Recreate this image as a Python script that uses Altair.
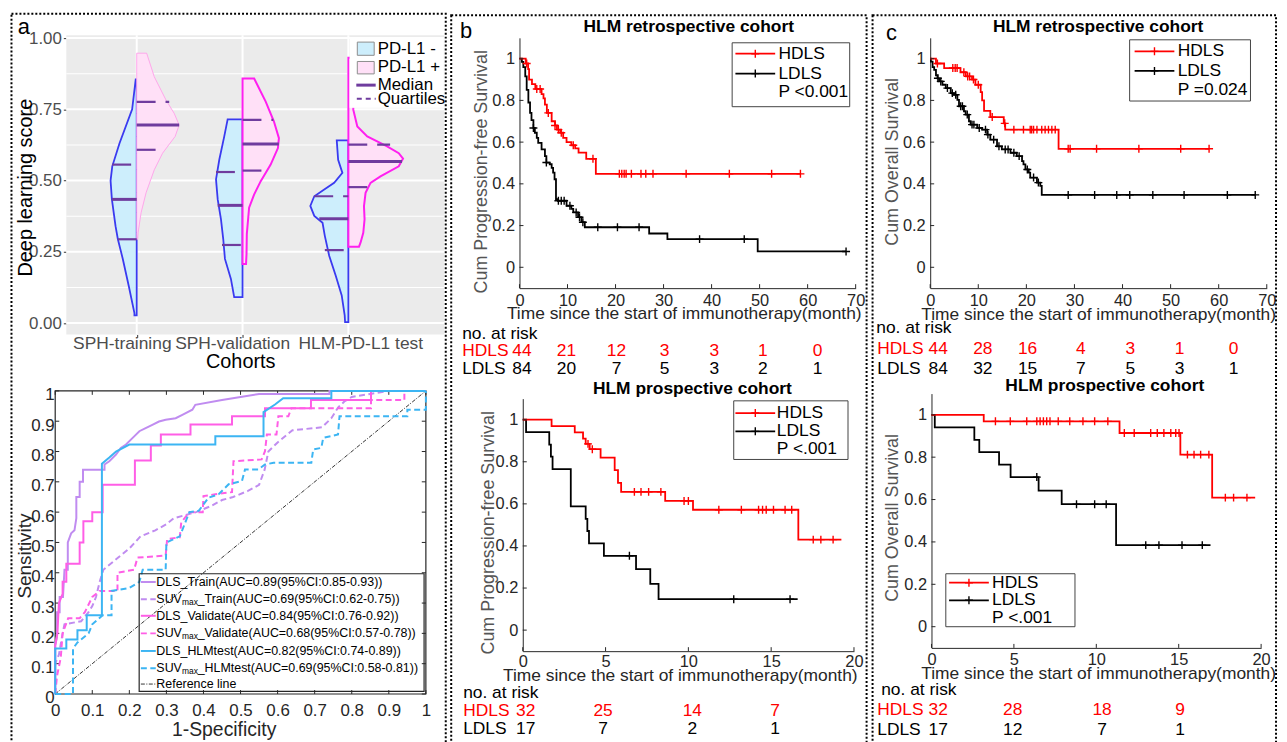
import altair as alt
import pandas as pd

FONT = "Liberation Sans"
W, H = 1279, 734
AX = "#262626"
RED = "#ff0000"
PURPLE = "#6f3c9e"
PLUS = "M-1,0L1,0M0,-1L0,1"
DUMMY = pd.DataFrame({"d": [0]})


def px(v):
    return v - 8


# ======================= DATA =======================
# ---- panel a (top): split violins, score vs half-width ----
cohorts = ["SPH-training", "SPH-validation", "HLM-PD-L1 test"]
tr_neg_y = [0.027, 0.035, 0.13, 0.225, 0.295, 0.34, 0.435, 0.50, 0.55, 0.631, 0.75, 0.855]
tr_neg_w = [2.3, 2.3, 8.0, 14.0, 19.0, 21.3, 25.0, 26.3, 24.6, 17.3, 4.6, 1.0]
tr_pos_y = [0.294, 0.317, 0.387, 0.457, 0.538, 0.596, 0.655, 0.695, 0.736, 0.783, 0.864, 0.947]
tr_pos_w = [1.0, 1.4, 4.4, 9.4, 17.7, 26.0, 38.7, 42.7, 37.7, 29.4, 17.7, 10.0]
va_neg_y = [0.091, 0.155, 0.225, 0.294, 0.364, 0.434, 0.504, 0.573, 0.655, 0.715]
va_neg_w = [8.4, 11.7, 17.7, 19.4, 21.7, 25.0, 26.7, 23.4, 18.4, 15.0]
va_pos_y = [0.207, 0.242, 0.312, 0.405, 0.451, 0.498, 0.556, 0.614, 0.649, 0.707, 0.777, 0.858]
va_pos_w = [3.5, 4.0, 4.3, 6.6, 11.6, 18.3, 28.3, 35.6, 36.6, 31.6, 23.3, 11.7]
hl_neg_y = [0.003, 0.027, 0.097, 0.166, 0.236, 0.306, 0.352, 0.376, 0.411, 0.445, 0.469, 0.492, 0.527, 0.573, 0.641]
hl_neg_w = [3.3, 3.7, 6.7, 12.7, 19.3, 23.7, 26.0, 34.3, 38.3, 34.3, 24.3, 14.3, 6.0, 10.3, 11.7]
hl_pos_y = [0.268, 0.283, 0.317, 0.364, 0.41, 0.457, 0.492, 0.515, 0.55, 0.577, 0.596, 0.62, 0.655, 0.69, 0.748, 0.864, 0.931]
hl_pos_w = [10.7, 12.3, 15.0, 16.3, 15.7, 17.3, 22.3, 32.3, 50.7, 55.0, 50.7, 39.0, 19.0, 9.0, 5.0, 4.0, 4.0]
# quartiles (lower, median, upper) and their half-widths
tr_neg_q = [0.294, 0.434, 0.556]
tr_neg_qw = [19.0, 25.0, 24.6]
tr_pos_q = [0.608, 0.695, 0.776]
tr_pos_qw = [28.7, 42.7, 32.7]
va_neg_q = [0.274, 0.413, 0.530]
va_neg_qw = [20.7, 25.0, 26.7]
va_pos_q = [0.535, 0.628, 0.713]
va_pos_qw = [25.0, 36.5, 31.0]
hl_neg_q = [0.256, 0.366, 0.445]
hl_neg_qw = [23.7, 29.3, 34.3]
hl_pos_q = [0.477, 0.567, 0.626]
hl_pos_qw = [19.0, 54.0, 42.0]

# ---- panel a (bottom): ROC curves ----
roc_names = ["DLS_Train", "SUVmax_Train", "DLS_Validate", "SUVmax_Validate", "DLS_HLMtest", "SUVmax_HLMtest"]
roc_auc = ["0.89(95%CI:0.85-0.93)", "0.69(95%CI:0.62-0.75)", "0.84(95%CI:0.76-0.92)",
           "0.68(95%CI:0.57-0.78)", "0.82(95%CI:0.74-0.89)", "0.69(95%CI:0.58-0.81)"]
dls_train_fpr = [0, 0, 0.005, 0.005, 0.012, 0.012, 0.021, 0.025, 0.034, 0.034, 0.043, 0.052, 0.057, 0.057, 0.066, 0.066,
                 0.075, 0.075, 0.133, 0.133, 0.146, 0.164, 0.177, 0.191, 0.209, 0.227, 0.244, 0.262, 0.280, 0.298, 0.325,
                 0.343, 0.370, 0.378, 0.45, 0.50, 0.55, 0.74, 0.74, 1.0]
dls_train_tpr = [0, 0.16, 0.19, 0.27, 0.27, 0.32, 0.32, 0.41, 0.41, 0.50, 0.53, 0.54, 0.58, 0.65, 0.65, 0.70,
                 0.70, 0.74, 0.74, 0.757, 0.768, 0.79, 0.812, 0.823, 0.845, 0.867, 0.877, 0.888, 0.899, 0.905, 0.91,
                 0.921, 0.938, 0.954, 0.97, 0.98, 0.99, 0.99, 1.0, 1.0]
suv_train_fpr = [0, 0, 0.01, 0.02, 0.025, 0.07, 0.09, 0.10, 0.11, 0.12, 0.13, 0.17, 0.20, 0.23, 0.27, 0.30, 0.32, 0.38,
                 0.42, 0.45, 0.48, 0.52, 0.55, 0.565, 0.575, 0.60, 0.64, 0.72, 0.745, 0.763, 0.78, 0.80, 0.85, 0.90, 1.0]
suv_train_tpr = [0, 0.10, 0.13, 0.20, 0.23, 0.24, 0.27, 0.29, 0.32, 0.37, 0.41, 0.45, 0.48, 0.52, 0.54, 0.56, 0.58, 0.60,
                 0.62, 0.64, 0.65, 0.67, 0.69, 0.74, 0.80, 0.83, 0.87, 0.88, 0.91, 0.945, 0.965, 0.98, 0.99, 1.0, 1.0]
dls_val_fpr = [0, 0, 0.006, 0.01, 0.02, 0.02, 0.03, 0.03, 0.066, 0.066, 0.076, 0.076, 0.10, 0.10, 0.128, 0.128, 0.215,
               0.215, 0.258, 0.258, 0.285, 0.285, 0.365, 0.365, 0.477, 0.477, 0.566, 0.566, 0.69, 0.69, 0.852, 0.852, 1.0]
dls_val_tpr = [0, 0.16, 0.20, 0.30, 0.33, 0.37, 0.37, 0.43, 0.43, 0.50, 0.50, 0.57, 0.57, 0.60, 0.60, 0.69, 0.69,
               0.77, 0.77, 0.82, 0.82, 0.856, 0.856, 0.889, 0.889, 0.916, 0.916, 0.943, 0.943, 0.97, 0.97, 1.0, 1.0]
suv_val_fpr = [0, 0.005, 0.015, 0.02, 0.035, 0.066, 0.08, 0.10, 0.12, 0.168, 0.168, 0.213, 0.222, 0.298, 0.302, 0.336,
               0.34, 0.362, 0.398, 0.40, 0.432, 0.477, 0.481, 0.557, 0.566, 0.571, 0.597, 0.602, 0.629, 0.637, 0.852,
               0.852, 0.942, 0.942, 1.0]
suv_val_tpr = [0, 0.06, 0.12, 0.20, 0.25, 0.25, 0.27, 0.32, 0.34, 0.34, 0.40, 0.41, 0.45, 0.457, 0.511, 0.517,
               0.566, 0.60, 0.60, 0.653, 0.659, 0.666, 0.768, 0.774, 0.801, 0.856, 0.856, 0.916, 0.916, 0.943, 0.943,
               0.97, 0.97, 1.0, 1.0]
dls_hlm_fpr = [0, 0, 0.03, 0.03, 0.06, 0.06, 0.085, 0.085, 0.126, 0.126, 0.146, 0.164, 0.20, 0.432, 0.432, 0.562,
               0.562, 0.593, 0.615, 0.745, 0.745, 1.0]
dls_hlm_tpr = [0, 0.15, 0.15, 0.18, 0.18, 0.21, 0.21, 0.26, 0.26, 0.76, 0.78, 0.80, 0.823, 0.823, 0.85, 0.85,
               0.93, 0.955, 0.976, 0.976, 1.0, 1.0]
suv_hlm_fpr = [0, 0.048, 0.048, 0.06, 0.09, 0.10, 0.128, 0.152, 0.152, 0.20, 0.227, 0.236, 0.298, 0.30, 0.336, 0.362,
               0.387, 0.414, 0.441, 0.468, 0.504, 0.512, 0.548, 0.566, 0.589, 0.691, 0.696, 0.718, 0.723, 0.763, 0.767,
               0.95, 0.95, 1.0, 1.0]
suv_hlm_tpr = [0, 0, 0.15, 0.17, 0.20, 0.23, 0.26, 0.26, 0.34, 0.35, 0.37, 0.41, 0.41, 0.50, 0.52, 0.60,
               0.604, 0.648, 0.659, 0.692, 0.703, 0.741, 0.741, 0.757, 0.763, 0.763, 0.807, 0.812, 0.845, 0.856, 0.916,
               0.916, 0.938, 0.938, 1.0]

# ---- panel b: progression-free survival ----
pfs_r_h_t = [0, 1.3, 1.8, 2.0, 2.6, 3.3, 4.6, 5.0, 5.3, 5.7, 6.7, 7.4, 7.8, 8.5, 9.1, 9.8, 10.8, 11.6, 12.3, 13.9, 15.9, 58.5]
pfs_r_h_s = [1.0, 0.977, 0.95, 0.90, 0.878, 0.855, 0.83, 0.81, 0.78, 0.74, 0.70, 0.68, 0.66, 0.645, 0.62, 0.60, 0.585,
             0.57, 0.55, 0.52, 0.448, 0.448]
pfs_r_h_ct = [1.5, 3.6, 4.3, 6.0, 7.4, 8.1, 8.7, 11.2, 15.3, 20.8, 21.3, 21.8, 22.2, 23.3, 25.3, 26.3, 27.8, 34.7, 43.7,
              52.5, 58.5]
pfs_r_h_cs = [0.977, 0.855, 0.855, 0.74, 0.68, 0.66, 0.645, 0.585, 0.52, 0.448, 0.448, 0.448, 0.448, 0.448, 0.448,
              0.448, 0.448, 0.448, 0.448, 0.448, 0.448]
pfs_r_l_t = [0, 0.5, 0.8, 1.2, 1.5, 1.85, 2.2, 2.5, 2.9, 3.2, 3.6, 3.9, 4.6, 5.3, 5.6, 6.3, 6.7, 7.0, 7.3, 7.6, 8.0, 9.8,
             10.8, 11.2, 12.2, 12.9, 13.6, 27.0, 30.8, 49.6, 68.0]
pfs_r_l_s = [1.0, 0.985, 0.96, 0.915, 0.85, 0.79, 0.74, 0.705, 0.668, 0.645, 0.62, 0.596, 0.565, 0.533, 0.502, 0.494,
             0.477, 0.454, 0.422, 0.327, 0.319, 0.295, 0.28, 0.263, 0.24, 0.216, 0.192, 0.162, 0.135, 0.076, 0.076]
pfs_r_l_ct = [2.9, 5.6, 8.1, 8.7, 9.3, 10.5, 11.8, 12.5, 13.2, 16.3, 20.4, 24.9, 37.5, 46.8, 68.0]
pfs_r_l_cs = [0.668, 0.502, 0.319, 0.319, 0.319, 0.295, 0.263, 0.24, 0.216, 0.192, 0.192, 0.192, 0.135, 0.135, 0.076]

pfs_p_h_t = [0, 1.74, 3.14, 3.64, 3.8, 4.04, 4.7, 5.55, 5.75, 5.94, 8.6, 10.28, 16.64, 19.24]
pfs_p_h_s = [1.0, 0.969, 0.94, 0.91, 0.885, 0.86, 0.82, 0.76, 0.70, 0.657, 0.614, 0.572, 0.43, 0.43]
pfs_p_h_ct = [3.94, 4.2, 6.74, 7.14, 7.6, 8.34, 9.74, 10.0, 11.84, 13.2, 14.24, 14.48, 14.7, 15.14, 15.84, 16.24,
              17.54, 18.0, 18.74]
pfs_p_h_cs = [0.885, 0.86, 0.657, 0.657, 0.657, 0.657, 0.614, 0.614, 0.572, 0.572, 0.572, 0.572, 0.572, 0.572,
              0.572, 0.572, 0.43, 0.43, 0.43]
pfs_p_l_t = [0, 0.2, 1.6, 1.7, 1.8, 2.9, 3.8, 3.9, 4.0, 4.9, 6.84, 7.7, 8.2, 16.6]
pfs_p_l_s = [1.0, 0.941, 0.882, 0.824, 0.765, 0.588, 0.529, 0.471, 0.412, 0.353, 0.29, 0.22, 0.147, 0.147]
pfs_p_l_ct = [6.44, 12.74, 16.14]
pfs_p_l_cs = [0.353, 0.147, 0.147]

# ---- panel c: overall survival ----
os_r_h_t = [0, 1.2, 2.9, 6.3, 7.4, 8.7, 9.4, 10.5, 10.8, 11.2, 12.5, 15.3, 15.6, 26.7, 58.0]
os_r_h_s = [1.0, 0.977, 0.955, 0.935, 0.915, 0.90, 0.875, 0.84, 0.80, 0.75, 0.72, 0.69, 0.66, 0.568, 0.568]
os_r_h_ct = [1.5, 4.7, 5.2, 5.6, 7.0, 7.8, 8.2, 9.0, 10.0, 12.9, 15.5, 17.4, 19.4, 20.8, 21.1, 21.5, 22.2, 23.2, 23.9,
             24.6, 25.3, 26.0, 28.7, 29.1, 34.6, 43.4, 52.1, 58.0]
os_r_h_cs = [0.977, 0.955, 0.955, 0.955, 0.935, 0.915, 0.915, 0.90, 0.875, 0.72, 0.69, 0.66, 0.66, 0.66, 0.66, 0.66,
             0.66, 0.66, 0.66, 0.66, 0.66, 0.66, 0.568, 0.568, 0.568, 0.568, 0.568, 0.568]
os_r_l_t = [0, 0.14, 0.5, 0.83, 1.2, 1.52, 1.86, 2.55, 3.24, 4.27, 4.96, 5.65, 5.99, 7.02, 7.37, 8.06, 8.4, 9.78, 10.8,
            11.85, 12.5, 13.9, 14.9, 16.7, 18.0, 19.1, 19.4, 19.8, 20.5, 20.8, 22.2, 22.9, 23.2, 67.6]
os_r_l_s = [1.0, 0.986, 0.96, 0.946, 0.92, 0.906, 0.891, 0.875, 0.859, 0.835, 0.827, 0.803, 0.772, 0.748, 0.732, 0.70,
            0.684, 0.668, 0.66, 0.636, 0.612, 0.58, 0.565, 0.549, 0.533, 0.509, 0.493, 0.469, 0.454, 0.43, 0.406, 0.39,
            0.347, 0.347]
os_r_l_ct = [1.6, 2.2, 3.58, 4.6, 5.3, 6.34, 6.7, 7.71, 8.7, 9.09, 10.2, 11.5, 12.0, 13.2, 14.3, 15.6, 16.2, 17.4, 18.5,
             20.2, 21.5, 22.5, 28.7, 34.2, 38.8, 41.5, 46.3, 52.8, 61.8, 67.6]
os_r_l_cs = [0.906, 0.891, 0.859, 0.835, 0.827, 0.772, 0.772, 0.732, 0.684, 0.684, 0.668, 0.66, 0.636, 0.612, 0.58,
             0.565, 0.565, 0.549, 0.533, 0.469, 0.43, 0.406, 0.347, 0.347, 0.347, 0.347, 0.347, 0.347, 0.347, 0.347]

os_p_h_t = [0, 3.17, 11.41, 15.1, 17.03, 19.64]
os_p_h_s = [1.0, 0.969, 0.914, 0.812, 0.609, 0.609]
os_p_h_ct = [3.88, 4.78, 5.78, 6.39, 6.59, 6.79, 6.99, 7.19, 7.69, 8.39, 9.19, 9.9, 10.7, 11.7, 12.3, 13.3, 13.7, 14.1,
             14.52, 14.82, 15.02, 15.53, 15.93, 16.33, 16.83, 17.83, 18.33, 19.14]
os_p_h_cs = [0.969, 0.969, 0.969, 0.969, 0.969, 0.969, 0.969, 0.969, 0.969, 0.969, 0.969, 0.969, 0.969, 0.914, 0.914,
             0.914, 0.914, 0.914, 0.914, 0.914, 0.914, 0.812, 0.812, 0.812, 0.812, 0.609, 0.609, 0.609]
os_p_l_t = [0, 0.2, 2.6, 2.9, 4.1, 4.8, 6.5, 7.9, 11.2, 16.93]
os_p_l_s = [1.0, 0.941, 0.882, 0.824, 0.765, 0.706, 0.642, 0.578, 0.385, 0.385]
os_p_l_ct = [6.39, 8.8, 9.9, 10.6, 13.0, 13.8, 15.2, 16.43]
os_p_l_cs = [0.706, 0.578, 0.578, 0.578, 0.385, 0.385, 0.385, 0.385]

# ---- numbers at risk ----
risk_t70 = [0, 10, 20, 30, 40, 50, 60]
risk_t20 = [0, 5, 10, 15]
pfs_r_risk_h = [44, 21, 12, 3, 3, 1, 0]
pfs_r_risk_l = [84, 20, 7, 5, 3, 2, 1]
pfs_p_risk_h = [32, 25, 14, 7]
pfs_p_risk_l = [17, 7, 2, 1]
os_r_risk_h = [44, 28, 16, 4, 3, 1, 0]
os_r_risk_l = [84, 32, 15, 7, 5, 3, 1]
os_p_risk_h = [32, 28, 18, 9]
os_p_risk_l = [17, 12, 7, 1]


# ======================= helpers =======================
def txt(x, y, s, size=17.0, color="black", align="left", weight="normal", angle=0):
    return alt.Chart(DUMMY).mark_text(
        text=s, font=FONT, fontSize=size, color=color, align=align, baseline="middle",
        fontWeight=weight, angle=angle
    ).encode(x=alt.value(px(x)), y=alt.value(px(y)))


def hline(x1, x2, y, color, width=1.5, dash=None):
    kw = dict(color=color, strokeWidth=width)
    if dash:
        kw["strokeDash"] = dash
    return alt.Chart(DUMMY).mark_rule(**kw).encode(
        x=alt.value(px(x1)), x2=alt.value(px(x2)), y=alt.value(px(y)))


def box(x1, y1, x2, y2, stroke="black", fill=None, width=1.0, dash=None):
    kw = dict(stroke=stroke, strokeWidth=width)
    if fill:
        kw["fill"] = fill
    else:
        kw["fillOpacity"] = 0
    if dash:
        kw["strokeDash"] = dash
    return alt.Chart(DUMMY).mark_rect(**kw).encode(
        x=alt.value(px(x1)), x2=alt.value(px(x2)), y=alt.value(px(y1)), y2=alt.value(px(y2)))


def plus(x, y, color, size=64):
    return alt.Chart(DUMMY).mark_point(
        shape=PLUS, filled=False, size=size, strokeWidth=1.4, color=color, opacity=1
    ).encode(x=alt.value(px(x)), y=alt.value(px(y)))


# ======================= violin group =======================
VX0, VX1 = 0.335, 3.906
VY0, VY1 = -0.04, 1.01
VX = alt.Scale(domain=[VX0, VX1], range=[px(66.7), px(447.0)], nice=False, zero=False)
VY = alt.Scale(domain=[VY0, VY1], range=[px(334.2), px(33.1)], nice=False, zero=False)
VW = 1 / 106.5

vx_axis = alt.Axis(
    orient="bottom", offset=px(334.2) - H, values=[1, 2, 3], labels=False,
    grid=False, domain=False, ticks=True, tickSize=3, tickColor="#333333", tickWidth=1,
    title="Cohorts", titleFont=FONT, titleFontSize=20, titleFontWeight="normal", titleColor="black",
    titleX=px(241.7), titleY=361 - 334.2, titleAlign="center", titleBaseline="middle")
vy_axis = alt.Axis(
    orient="left", offset=-px(66.7), values=[0, 0.25, 0.5, 0.75, 1.0], format=".2f",
    grid=False, domain=False, ticks=True, tickSize=3, tickColor="#333333", tickWidth=1,
    labelFont=FONT, labelFontSize=17, labelColor="#4d4d4d", labelPadding=2, labelOverlap=False,
    title="Deep learning score", titleFont=FONT, titleFontSize=20, titleFontWeight="normal", titleColor="black",
    titleX=26 - 66.7, titleY=px(186), titleAngle=270, titleAlign="center", titleBaseline="middle")


def vx(f):
    return alt.X(f, scale=VX, axis=vx_axis)


def vy(f):
    return alt.Y(f, scale=VY, axis=vy_axis)


V = []
V.append(alt.Chart(pd.DataFrame({"a": [VX0], "b": [VX1], "c": [VY0], "d": [VY1]})).mark_rect(fill="#ebebeb").encode(
    x=vx("a:Q"), x2="b:Q", y=vy("c:Q"), y2="d:Q"))
minor = [0.125, 0.375, 0.625, 0.875]
major = [0, 0.25, 0.5, 0.75, 1.0]
V.append(alt.Chart(pd.DataFrame({"v": minor, "a": [VX0] * 4, "b": [VX1] * 4})).mark_rule(
    color="white", strokeWidth=1.1).encode(y=vy("v:Q"), x=vx("a:Q"), x2="b:Q"))
V.append(alt.Chart(pd.DataFrame({"v": major, "a": [VX0] * 5, "b": [VX1] * 5})).mark_rule(
    color="white", strokeWidth=2).encode(y=vy("v:Q"), x=vx("a:Q"), x2="b:Q"))
V.append(alt.Chart(pd.DataFrame({"v": [1, 2, 3], "a": [VY0] * 3, "b": [VY1] * 3})).mark_rule(
    color="white", strokeWidth=2).encode(x=vx("v:Q"), y=vy("a:Q"), y2="b:Q"))

BFILL, BLINE = "#cdeefc", "#3a3af0"
PFILL = "#ffe0f7"
halves = [
    (tr_neg_y, tr_neg_w, 1, -1, BFILL, BLINE, 1.8),
    (tr_pos_y, tr_pos_w, 1, 1, PFILL, "#ffa0ea", 0.9),
    (va_neg_y, va_neg_w, 2, -1, BFILL, BLINE, 1.8),
    (va_pos_y, va_pos_w, 2, 1, PFILL, "#ff1ff0", 2.0),
    (hl_neg_y, hl_neg_w, 3, -1, BFILL, BLINE, 1.8),
    (hl_pos_y, hl_pos_w, 3, 1, PFILL, "#ff1ff0", 2.0),
]
for ys_, ws_, c, side, fill, stroke, sw in halves:
    a = [c - w * VW if side < 0 else c for w in ws_]
    b = [c if side < 0 else c + w * VW for w in ws_]
    V.append(alt.Chart(pd.DataFrame({"y": ys_, "a": a, "b": b})).mark_area(
        orient="horizontal", fill=fill, stroke=stroke, strokeWidth=sw, fillOpacity=1).encode(
        y=vy("y:Q"), x=vx("a:Q"), x2="b:Q"))

qrows = []
for qs, qw, c, side in [(tr_neg_q, tr_neg_qw, 1, -1), (tr_pos_q, tr_pos_qw, 1, 1), (va_neg_q, va_neg_qw, 2, -1),
                        (va_pos_q, va_pos_qw, 2, 1), (hl_neg_q, hl_neg_qw, 3, -1), (hl_pos_q, hl_pos_qw, 3, 1)]:
    for k, (q, w) in enumerate(zip(qs, qw)):
        qrows.append({"y": q, "a": c - w * VW if side < 0 else c, "b": c if side < 0 else c + w * VW,
                      "kind": "median" if k == 1 else "quartile"})
qdf = pd.DataFrame(qrows)
V.append(alt.Chart(qdf[qdf.kind == "quartile"]).mark_rule(color=PURPLE, strokeWidth=2.2, strokeDash=[19, 10]).encode(
    y=vy("y:Q"), x=vx("a:Q"), x2="b:Q"))
V.append(alt.Chart(qdf[qdf.kind == "median"]).mark_rule(color=PURPLE, strokeWidth=3).encode(
    y=vy("y:Q"), x=vx("a:Q"), x2="b:Q"))

# category labels (through the x scale, nudged like the figure's labels)
for i, (name, dx) in enumerate(zip(cohorts, [-14.5, -10, 12.5])):
    V.append(alt.Chart(pd.DataFrame({"p": [i + 1], "n": [name]})).mark_text(
        font=FONT, fontSize=17.5, color="#4d4d4d", align="center", baseline="middle", dx=dx).encode(
        x=vx("p:Q"), y=alt.value(px(344)), text="n:N"))

# legend
V.append(box(352, 37, 446.5, 106, stroke="white", fill="white", width=0.5))
V.append(box(359.5, 40, 376.5, 53.3, stroke="#8c8c8c", fill=BFILL))
V.append(box(359.5, 59.5, 376.5, 72, stroke="#8c8c8c", fill=PFILL))
V.append(hline(358.5, 378, 83.3, PURPLE, 3))
V.append(hline(359, 378, 97, PURPLE, 2, [5, 4]))
V.append(txt(380, 46.7, "PD-L1 -", 17))
V.append(txt(380, 65.5, "PD-L1 +", 17))
V.append(txt(380, 83.3, "Median", 17))
V.append(txt(380, 97.5, "Quartiles", 17))
violin = alt.layer(*V)

# ======================= ROC group =======================
RX = alt.Scale(domain=[0, 1], range=[px(55.5), px(428.5)], nice=False, zero=False)
RY = alt.Scale(domain=[0, 1], range=[px(696), px(391)], nice=False, zero=False)
roc_ticks = [0, 0.1, 0.2, 0.3, 0.4, 0.5, 0.6, 0.7, 0.8, 0.9, 1.0]
rx_axis = alt.Axis(
    orient="bottom", offset=px(696) - H, values=roc_ticks, format="~g", grid=False, domain=False,
    ticks=False, tickSize=0, labelFont=FONT, labelFontSize=17, labelColor=AX, labelPadding=17,
    labelBaseline="middle", labelFlush=False, labelOverlap=False,
    title="1-Specificity", titleFont=FONT, titleFontSize=19.5, titleFontWeight="normal", titleColor=AX,
    titleX=px(225), titleY=731.7 - 696, titleAlign="center", titleBaseline="middle")
ry_axis = alt.Axis(
    orient="left", offset=-px(55.5), values=roc_ticks, format="~g", grid=False, domain=False,
    ticks=False, tickSize=0, labelFont=FONT, labelFontSize=17, labelColor=AX, labelPadding=1, labelOffset=4,
    labelOverlap=False,
    title="Sensitivity", titleFont=FONT, titleFontSize=19, titleFontWeight="normal", titleColor=AX,
    titleX=25 - 55.5, titleY=px(556.7), titleAngle=270, titleAlign="center", titleBaseline="middle")


def rxe(f):
    return alt.X(f, scale=RX, axis=rx_axis)


def rye(f):
    return alt.Y(f, scale=RY, axis=ry_axis)


R = []
R.append(alt.Chart(pd.DataFrame({"a": [0], "b": [1], "c": [0], "d": [1]})).mark_rect(
    fillOpacity=0, stroke=AX, strokeWidth=1.2).encode(x=rxe("a:Q"), x2="b:Q", y=rye("c:Q"), y2="d:Q"))
nt = len(roc_ticks)
for a0, b0 in [(0.0, 0.013), (1.0, 0.987)]:
    R.append(alt.Chart(pd.DataFrame({"v": roc_ticks, "a": [a0] * nt, "b": [b0] * nt})).mark_rule(
        color=AX, strokeWidth=1).encode(x=rxe("v:Q"), y=rye("a:Q"), y2="b:Q"))
for a0, b0 in [(0.0, 0.011), (1.0, 0.989)]:
    R.append(alt.Chart(pd.DataFrame({"v": roc_ticks, "a": [a0] * nt, "b": [b0] * nt})).mark_rule(
        color=AX, strokeWidth=1).encode(y=rye("v:Q"), x=rxe("a:Q"), x2="b:Q"))

roc_series = [(dls_train_fpr, dls_train_tpr), (suv_train_fpr, suv_train_tpr), (dls_val_fpr, dls_val_tpr),
              (suv_val_fpr, suv_val_tpr), (dls_hlm_fpr, dls_hlm_tpr), (suv_hlm_fpr, suv_hlm_tpr)]
roc_colors = ["#c08cf0", "#c08cf0", "#ff5ee6", "#ff5ee6", "#3cb5f3", "#3cb5f3"]
DASH = [6, 3.5]
roc_dash = [None, DASH, None, DASH, None, DASH]
REFDASH = [4, 1.5, 1, 1.5]
R.append(alt.Chart(pd.DataFrame({"f": [0, 1], "t": [0, 1]})).mark_line(
    color="#333333", strokeWidth=1, strokeDash=REFDASH).encode(x=rxe("f:Q"), y=rye("t:Q")))
for (f, t), col, dsh in zip(roc_series, roc_colors, roc_dash):
    kw = dict(color=col, strokeWidth=2)
    if dsh:
        kw["strokeDash"] = dsh
    R.append(alt.Chart(pd.DataFrame({"f": f, "t": t, "i": list(range(len(f)))})).mark_line(**kw).encode(
        x=rxe("f:Q"), y=rye("t:Q"), order="i:Q"))

# ROC legend
R.append(box(140, 575, 426.7, 693.3, stroke=AX, width=1.2))
leg_y = [583.3, 600.7, 617.3, 635.0, 652.7, 670.0, 686.0]
for name, auc, col, dsh, yy in zip(roc_names, roc_auc, roc_colors, roc_dash, leg_y):
    R.append(hline(141.7, 156.7, yy, col, 2, dsh))
    if name.startswith("SUVmax"):
        R.append(txt(157.3, yy, "SUV", 12.5))
        R.append(txt(157.3 + 25.7, yy + 3, "max", 8.5))
        R.append(txt(157.3 + 41.6, yy, name[6:] + "(AUC=" + auc + ")", 12.5))
    else:
        R.append(txt(157.3, yy, name + "(AUC=" + auc + ")", 12.5))
R.append(hline(141.7, 156.7, leg_y[6], "#333333", 1, REFDASH))
R.append(txt(157.3, leg_y[6], "Reference line", 12.5))
roc = alt.layer(*R)


# ======================= KM groups =======================
def km_group(c):
    xs = alt.Scale(domain=c["xdom"], range=[px(c["x0"]), px(c["x1"])], nice=False, zero=False)
    ys = alt.Scale(domain=[-0.1, 1.1], range=[px(c["yb"]), px(c["yt"])], nice=False, zero=False)
    ppx = (c["x1"] - c["x0"]) / (c["xdom"][1] - c["xdom"][0])
    ppy = (c["yb"] - c["yt"]) / 1.2
    xaxis = alt.Axis(
        orient="bottom", offset=px(c["yb"]) - H, values=c["xticks"], format="d", grid=False,
        ticks=False, tickSize=0, domain=True, domainColor=AX, domainWidth=1,
        labelFont=FONT, labelFontSize=16.5, labelColor=AX, labelPadding=c["xlab_dy"], labelBaseline="middle",
        labelFlush=False, labelOverlap=False,
        title="Time since the start of immunotherapy(month)", titleFont=FONT, titleFontSize=17.5,
        titleFontWeight="normal", titleColor=AX, titleX=px(c["xtitle"][0]), titleY=c["xtitle"][1] - c["yb"],
        titleAlign="center", titleBaseline="middle")
    yaxis = alt.Axis(
        orient="left", offset=-px(c["x0"]), values=[0, 0.2, 0.4, 0.6, 0.8, 1.0], format="~g", grid=False,
        ticks=False, tickSize=0, domain=True, domainColor=AX, domainWidth=1,
        labelFont=FONT, labelFontSize=16.5, labelColor=AX, labelPadding=5, labelOverlap=False,
        title=c["ytitle"], titleFont=FONT, titleFontSize=18, titleFontWeight="normal", titleColor="#555555",
        titleX=c["ytitle_pos"][0] - c["x0"], titleY=px(c["ytitle_pos"][1]), titleAngle=270,
        titleAlign="center", titleBaseline="middle")

    def X(f):
        return alt.X(f, scale=xs, axis=xaxis)

    def Y(f):
        return alt.Y(f, scale=ys, axis=yaxis)

    L = []
    ldf = pd.DataFrame({"t": c["l_t"], "s": c["l_s"]})
    hdf = pd.DataFrame({"t": c["h_t"], "s": c["h_s"]})
    L.append(alt.Chart(ldf).mark_line(interpolate="step-after", color="black", strokeWidth=1.8).encode(
        x=X("t:Q"), y=Y("s:Q")))
    L.append(alt.Chart(hdf).mark_line(interpolate="step-after", color=RED, strokeWidth=1.8).encode(
        x=X("t:Q"), y=Y("s:Q")))
    L.append(alt.Chart(pd.DataFrame({"t": c["l_ct"], "s": c["l_cs"]})).mark_point(
        shape=PLUS, filled=False, size=64, strokeWidth=1.4, color="black", opacity=1).encode(x=X("t:Q"), y=Y("s:Q")))
    L.append(alt.Chart(pd.DataFrame({"t": c["h_ct"], "s": c["h_cs"]})).mark_point(
        shape=PLUS, filled=False, size=64, strokeWidth=1.4, color=RED, opacity=1).encode(x=X("t:Q"), y=Y("s:Q")))
    # inward ticks
    nx = len(c["xticks"])
    L.append(alt.Chart(pd.DataFrame({"v": c["xticks"], "a": [-0.1] * nx, "b": [-0.1 + 4 / ppy] * nx})).mark_rule(
        color=AX, strokeWidth=1).encode(x=X("v:Q"), y=Y("a:Q"), y2="b:Q"))
    yt = [0, 0.2, 0.4, 0.6, 0.8, 1.0]
    L.append(alt.Chart(pd.DataFrame({"v": yt, "a": [c["xdom"][0]] * 6, "b": [c["xdom"][0] + 4 / ppx] * 6})).mark_rule(
        color=AX, strokeWidth=1).encode(y=Y("v:Q"), x=X("a:Q"), x2="b:Q"))
    # title
    L.append(txt(c["title_pos"][0], c["title_pos"][1], c["title"], 17.5, align="center", weight="bold"))
    # legend
    bx = c["leg_box"]
    L.append(box(bx[0], bx[1], bx[2], bx[3], stroke="#444444", fill="white", width=1))
    r = c["leg_rows"]
    l0, l1 = c["leg_line"]
    L.append(hline(l0, l1, r[0], RED, 1.8))
    L.append(plus((l0 + l1) / 2, r[0], RED))
    L.append(hline(l0, l1, r[1], "black", 1.8))
    L.append(plus((l0 + l1) / 2, r[1], "black"))
    L.append(txt(c["leg_tx"], r[0], "HDLS", 17.5))
    L.append(txt(c["leg_tx"], r[1], "LDLS", 17.5))
    L.append(txt(c["leg_tx"], r[2], c["pval"], 17.5))
    # numbers at risk (columns placed at the time ticks, nudged by a few px as in the figure)
    rt = c["rt"]
    tx = [t + d / ppx for t, d in zip(rt, c["risk_dx"])]
    rdf = pd.DataFrame({"t": tx, "h": [str(v) for v in c["rh"]], "l": [str(v) for v in c["rl"]]})
    L.append(txt(c["risk_title"][0], c["risk_title"][1], "no. at risk", 17.5))
    L.append(txt(c["risk_lx"], c["risk_rows"][0], "HDLS", 17.5, color=RED))
    L.append(txt(c["risk_lx"], c["risk_rows"][1], "LDLS", 17.5))
    L.append(alt.Chart(rdf).mark_text(font=FONT, fontSize=17.5, color=RED, align="center", baseline="middle").encode(
        x=X("t:Q"), y=alt.value(px(c["risk_rows"][0])), text="h:N"))
    L.append(alt.Chart(rdf).mark_text(font=FONT, fontSize=17.5, color="black", align="center", baseline="middle").encode(
        x=X("t:Q"), y=alt.value(px(c["risk_rows"][1])), text="l:N"))
    return alt.layer(*L)


PFS_T = "Cum Progression-free Survival"
OS_T = "Cum Overall Survival"
km_b1 = km_group(dict(
    xdom=[0, 70], x0=522.7, x1=861.0, yb=287.6, yt=35.7, xticks=[0, 10, 20, 30, 40, 50, 60, 70],
    xlab_dy=12.0, xtitle=(688, 313.5), ytitle=PFS_T, ytitle_pos=(485, 170),
    title="HLM retrospective cohort", title_pos=(693, 25),
    h_t=pfs_r_h_t, h_s=pfs_r_h_s, h_ct=pfs_r_h_ct, h_cs=pfs_r_h_cs,
    l_t=pfs_r_l_t, l_s=pfs_r_l_s, l_ct=pfs_r_l_ct, l_cs=pfs_r_l_cs,
    leg_box=(736.7, 40.7, 855, 105), leg_rows=(51.7, 71.7, 90), leg_line=(740, 780), leg_tx=783.3,
    pval="P <0.001", rt=risk_t70, rh=pfs_r_risk_h, rl=pfs_r_risk_l, risk_dx=[2.5, -1, 1, 1, 2.7, 3.3, 10],
    risk_title=(465, 333.3), risk_lx=465, risk_rows=(351, 369)))
km_b2 = km_group(dict(
    xdom=[0, 20], x0=526.0, x1=859.3, yb=652.9, yt=398.8, xticks=[0, 5, 10, 15, 20],
    xlab_dy=10.2, xtitle=(684, 677), ytitle=PFS_T, ytitle_pos=(491.7, 533.3),
    title="HLM prospective cohort", title_pos=(696.7, 389.3),
    h_t=pfs_p_h_t, h_s=pfs_p_h_s, h_ct=pfs_p_h_ct, h_cs=pfs_p_h_cs,
    l_t=pfs_p_l_t, l_s=pfs_p_l_s, l_ct=pfs_p_l_ct, l_cs=pfs_p_l_cs,
    leg_box=(738.3, 401, 853.3, 460), leg_rows=(413.3, 431.7, 450), leg_line=(740, 780), leg_tx=781.7,
    pval="P <.001", rt=risk_t20, rh=pfs_p_risk_h, rl=pfs_p_risk_l, risk_dx=[3, -2.5, 4, 4],
    risk_title=(466, 695), risk_lx=466, risk_rows=(712.7, 731.7)))
km_c1 = km_group(dict(
    xdom=[0, 70], x0=936.0, x1=1274.7, yb=287.6, yt=35.7, xticks=[0, 10, 20, 30, 40, 50, 60, 70],
    xlab_dy=12.0, xtitle=(1105, 313.8), ytitle=OS_T, ytitle_pos=(898.3, 160),
    title="HLM retrospective cohort", title_pos=(1105, 25),
    h_t=os_r_h_t, h_s=os_r_h_s, h_ct=os_r_h_ct, h_cs=os_r_h_cs,
    l_t=os_r_l_t, l_s=os_r_l_s, l_ct=os_r_l_ct, l_cs=os_r_l_cs,
    leg_box=(1136.7, 37.7, 1258.3, 99.3), leg_rows=(49.3, 69, 88.3), leg_line=(1141.7, 1181.7), leg_tx=1185,
    pval="P =0.024", rt=risk_t70, rh=os_r_risk_h, rl=os_r_risk_l, risk_dx=[8, 4.6, 1.2, 6.3, 7.9, 9, 15],
    risk_title=(881.7, 328), risk_lx=882.7, risk_rows=(349, 369)))
km_c2 = km_group(dict(
    xdom=[0, 20], x0=937.3, x1=1269.0, yb=649.6, yt=393.7, xticks=[0, 5, 10, 15, 20],
    xlab_dy=11.8, xtitle=(1105, 675.5), ytitle=OS_T, ytitle_pos=(898.3, 518.3),
    title="HLM prospective cohort", title_pos=(1111.7, 386),
    h_t=os_p_h_t, h_s=os_p_h_s, h_ct=os_p_h_ct, h_cs=os_p_h_cs,
    l_t=os_p_l_t, l_s=os_p_l_s, l_ct=os_p_l_ct, l_cs=os_p_l_cs,
    leg_box=(951.7, 575, 1081.7, 628.3), leg_rows=(584, 601.7, 619.3), leg_line=(955, 995), leg_tx=998.3,
    pval="P <.001", rt=risk_t20, rh=os_p_risk_h, rl=os_p_risk_l, risk_dx=[6.7, -1.2, 5.8, 1.4],
    risk_title=(886.7, 691.7), risk_lx=882.7, risk_rows=(711.7, 732.7)))

# ======================= decorations =======================
DOT = [2, 2]
D = [
    box(11.5, 11.5, 448.5, 770, stroke="black", width=2, dash=DOT),
    box(454, 13, 872, 770, stroke="black", width=2, dash=DOT),
    box(878, 13, 1284, 770, stroke="black", width=2, dash=DOT),
    txt(24, 25, "a", 22, align="center"),
    txt(469, 29, "b", 22, align="center"),
    txt(897, 31, "c", 22, align="center"),
]
deco = alt.layer(*D)

chart = alt.layer(violin, roc, km_b1, km_b2, km_c1, km_c2, deco).resolve_scale(
    x="independent", y="independent").resolve_axis(x="independent", y="independent").properties(
    width=W, height=H, padding=0, background="white",
    autosize=alt.AutoSizeParams(type="none", contains="padding")).configure_view(stroke=None)

chart.save("out.html", embed_options={"renderer": "svg", "actions": False})
